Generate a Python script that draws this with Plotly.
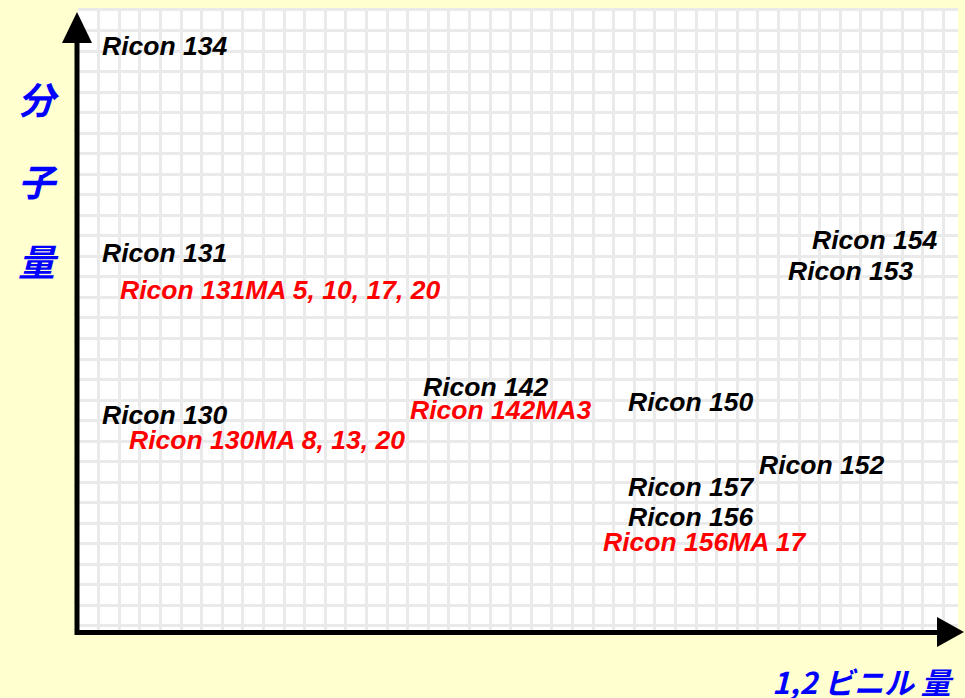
import plotly.graph_objects as go

# ---- data (grid units: x = 1,2-vinyl amount, y = molecular weight) ----
labels = ["Ricon 134", "Ricon 131", "Ricon 131MA 5, 10, 17, 20", "Ricon 130",
          "Ricon 130MA 8, 13, 20", "Ricon 142", "Ricon 142MA3", "Ricon 150",
          "Ricon 154", "Ricon 153", "Ricon 152", "Ricon 157", "Ricon 156",
          "Ricon 156MA 17"]
vinyl = [1.09, 1.09, 1.92, 1.09, 2.40, 16.63, 16.0, 26.58, 35.51, 34.39, 32.98, 26.58, 26.58, 25.37]
molwt = [28.25, 18.17, 16.37, 10.28, 9.06, 11.64, 10.52, 10.91, 18.80, 17.29, 7.84, 6.77, 5.31, 4.09]
colors = ["black", "black", "red", "black", "red", "black", "red", "black",
          "black", "black", "black", "black", "black", "red"]
y_title_chars = ["分", "子", "量"]
x_title = "1,2 ビニル 量"

W, H = 965, 698
# plot area in window pixels: x 78..958, y 8..630
L, T, R, B = 78, 8, 965 - 958, 698 - 630
PW, PH = W - L - R, H - T - B


def px(x):
    return (x - L) / PW


def py(y):
    return (H - B - y) / PH


fig = go.Figure()
fig.add_trace(go.Scatter(x=[None], y=[None], mode="markers", showlegend=False, hoverinfo="skip"))

for t, xv, yv, c in zip(labels, vinyl, molwt, colors):
    fig.add_annotation(x=xv, y=yv, xref="x", yref="y", text=t, showarrow=False,
                       xanchor="left", yanchor="middle",
                       font=dict(family="Liberation Sans, Arial", size=26.5, color=c,
                                 weight="bold", style="italic"))

# y-axis title (vertical stacked chars)
for ch, yc in zip(y_title_chars, [98, 180, 260]):
    fig.add_annotation(x=px(38), y=py(yc), xref="paper", yref="paper", text=ch,
                       showarrow=False, xanchor="center", yanchor="middle",
                       font=dict(family="Noto Sans CJK JP", size=37, color="#0000FF",
                                 weight="bold", style="italic"))
fig.add_annotation(x=px(956), y=py(681), xref="paper", yref="paper", text=x_title,
                   showarrow=False, xanchor="right", yanchor="middle",
                   font=dict(family="Noto Sans CJK JP", size=30, color="#0000FF",
                             weight="bold", style="italic"))

shapes = []
# axes lines
shapes.append(dict(type="line", xref="paper", yref="paper", x0=px(77), x1=px(77),
                   y0=py(635), y1=py(40), line=dict(color="black", width=5)))
shapes.append(dict(type="line", xref="paper", yref="paper", x0=px(75), x1=px(940),
                   y0=py(632.5), y1=py(632.5), line=dict(color="black", width=5)))
# arrow heads
shapes.append(dict(type="path", xref="paper", yref="paper",
                   path=f"M {px(62)} {py(43)} L {px(92)} {py(43)} L {px(77)} {py(12)} Z",
                   fillcolor="black", line=dict(color="black", width=0)))
shapes.append(dict(type="path", xref="paper", yref="paper",
                   path=f"M {px(937)} {py(617)} L {px(937)} {py(647)} L {px(964)} {py(632)} Z",
                   fillcolor="black", line=dict(color="black", width=0)))
fig.update_layout(shapes=shapes)

fig.update_layout(
    width=W, height=H,
    margin=dict(l=L, r=R, t=T, b=B, pad=0),
    paper_bgcolor="#FFFFD0",
    plot_bgcolor="white",
    showlegend=False,
    xaxis=dict(range=[0, PW / 20.6], dtick=1, tick0=0, showticklabels=False, ticks="",
               showgrid=True, gridcolor="#EAEAEA", gridwidth=2.5, zeroline=False,
               showline=False, fixedrange=True),
    yaxis=dict(range=[-0.2, PH / 20.53 - 0.2], dtick=1, tick0=0, showticklabels=False, ticks="",
               showgrid=True, gridcolor="#EAEAEA", gridwidth=2.5, zeroline=False,
               showline=False, fixedrange=True),
)

fig.write_html("out.html", config={"displayModeBar": False},
               post_script="document.body.style.margin='0';document.body.style.overflow='hidden';"
                           "document.body.style.background='#FFFFD0';")
